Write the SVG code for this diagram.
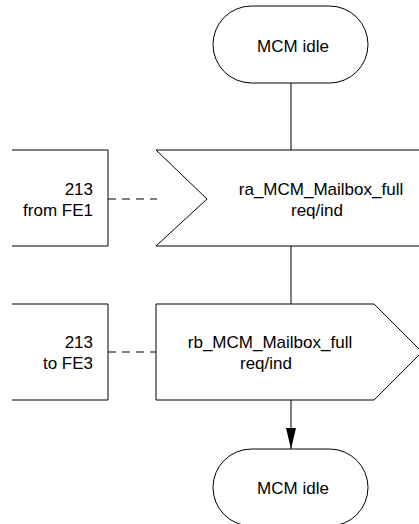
<svg xmlns="http://www.w3.org/2000/svg" width="419" height="524" viewBox="0 0 419 524">
<style>
.s{fill:#fff;stroke:#000;stroke-width:1}
.o{fill:none;stroke:#000;stroke-width:1}
.d{fill:none;stroke:#000;stroke-width:1;stroke-dasharray:8,6}
text{font-family:"Liberation Sans",Arial,sans-serif;font-size:17px;fill:#000}
.m{text-anchor:middle}
.e{text-anchor:end}
</style>
<defs>
<marker id="ah" markerWidth="21" markerHeight="10" refX="21" refY="5" orient="auto" markerUnits="userSpaceOnUse" viewBox="0 0 21 10">
<path d="M0,0 L21,5 L0,10 Z" fill="#000"/>
</marker>
</defs>
<g id="connectors">
<line class="o" x1="291" y1="83" x2="291" y2="150"/>
<line class="o" x1="291" y1="246" x2="291" y2="304"/>
<line class="o" x1="291" y1="400" x2="291" y2="449" marker-end="url(#ah)"/>
<line class="d" x1="108" y1="199" x2="157" y2="199"/>
<line class="d" x1="108" y1="352" x2="156" y2="352"/>
</g>
<g id="start">
<rect class="s" x="213" y="6" width="155" height="77" rx="38.5" ry="38.5"/>
<text class="m" x="293" y="52">MCM idle</text>
</g>
<g id="ref1">
<path class="o" d="M12,150 H108 V246 H12"/>
<text class="e" x="93" y="195">213</text>
<text class="e" x="93" y="216">from FE1</text>
</g>
<g id="input">
<path class="s" d="M156,150 H430 V246 H156 L207,199 Z"/>
<text class="m" x="321" y="195">ra_MCM_Mailbox_full</text>
<text class="m" x="317" y="216">req/ind</text>
</g>
<g id="ref2">
<path class="o" d="M12,304 H108 V400 H12"/>
<text class="e" x="93" y="348">213</text>
<text class="e" x="93" y="369">to FE3</text>
</g>
<g id="output">
<path class="s" d="M156,304 H374 L422,352 L374,400 H156 Z"/>
<text class="m" x="270" y="348">rb_MCM_Mailbox_full</text>
<text class="m" x="266" y="369">req/ind</text>
</g>
<g id="end">
<rect class="s" x="213" y="449" width="155" height="77" rx="38.5" ry="38.5"/>
<text class="m" x="293" y="494">MCM idle</text>
</g>
</svg>
